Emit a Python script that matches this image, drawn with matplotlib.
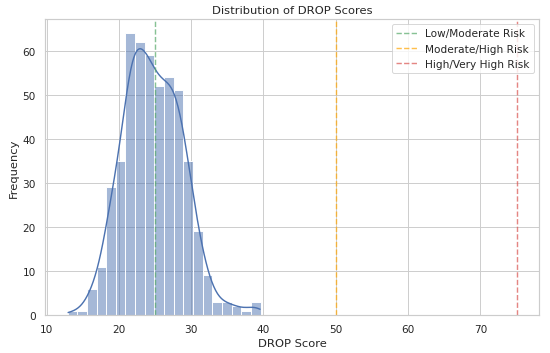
import numpy as np
import matplotlib
matplotlib.use("Agg")
import matplotlib.pyplot as plt
import seaborn as sns

# bin edges / counts (500 scores)
bin_lo = 12.9
bin_hi = 39.6
n_bins = 20
counts = [1, 1, 6, 11, 29, 35, 64, 62, 59, 52, 54, 51, 35, 19, 9, 3, 3, 2, 1, 3]

thresholds = [25, 50, 75]
thr_labels = ["Low/Moderate Risk", "Moderate/High Risk", "High/Very High Risk"]
thr_colors = ["#55a868", "orange", "#d9534f"]

edges = np.linspace(bin_lo, bin_hi, n_bins + 1)
centers = (edges[:-1] + edges[1:]) / 2
scores = np.repeat(centers, counts)

sns.set_theme(style="whitegrid")

fig = plt.figure(figsize=(8, 5.149), dpi=68.75)
ax = fig.add_subplot(111)
sns.histplot(x=scores, bins=edges, kde=True, kde_kws={"cut": 0.5}, ax=ax)

for t, lab, c in zip(thresholds, thr_labels, thr_colors):
    ax.axvline(t, color=c, linestyle="--", alpha=0.7, label=lab)

ax.set_title("Distribution of DROP Scores")
ax.set_xlabel("DROP Score")
ax.set_ylabel("Frequency")
ax.legend(loc="upper right")

fig.subplots_adjust(left=0.082, right=0.98, top=0.944, bottom=0.107)
fig.savefig("out.png", dpi=68.75)
